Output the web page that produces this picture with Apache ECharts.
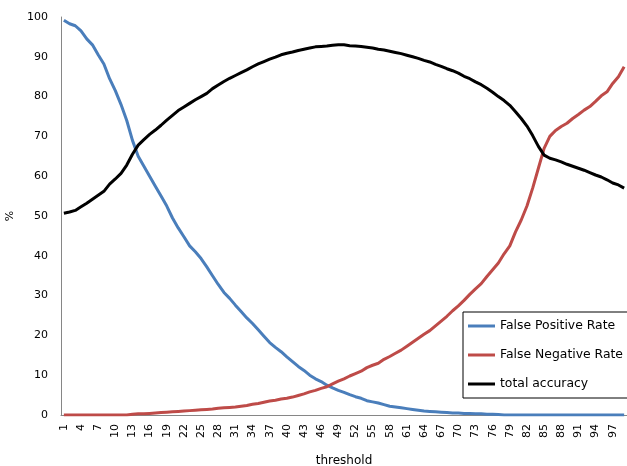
<!DOCTYPE html>
<html><head><meta charset="utf-8">
<script src="https://cdn.jsdelivr.net/npm/echarts@6/dist/echarts.min.js"></script>
<style>html,body{margin:0;padding:0;background:#fff}#c{width:627px;height:466px}</style>
</head><body><div id="c"></div>
<script>
const thresholds = [];
for (let i = 1; i <= 99; i++) thresholds.push(String(i));

const falsePositiveRate = [99.2,98.3,97.8,96.5,94.5,93,90.5,88.2,84.5,81.5,
78,74,69,65,62.5,60,57.5,55,52.5,49.5,
47,44.8,42.5,41,39.3,37.2,35,32.8,30.8,29.3,
27.6,26,24.4,23,21.4,19.8,18.2,17,15.9,14.6,
13.4,12.2,11.2,10,9.1,8.4,7.5,6.8,6.2,5.7,
5.1,4.6,4.2,3.6,3.3,3.0,2.6,2.2,2.0,1.8,
1.6,1.4,1.2,1.0,0.9,0.8,0.7,0.6,0.5,0.5,
0.4,0.4,0.3,0.3,0.2,0.2,0.1,0,0,0,
0,0,0,0,0,0,0,0,0,0,
0,0,0,0,0,0,0,0,0];

const falseNegativeRate = [0,0,0,0,0,0,0,0,0,0,
0,0,0.2,0.3,0.3,0.4,0.5,0.6,0.7,0.8,
0.9,1.0,1.1,1.2,1.3,1.4,1.5,1.7,1.8,1.9,
2.0,2.2,2.4,2.7,2.9,3.2,3.5,3.7,4.0,4.2,
4.5,4.9,5.3,5.8,6.2,6.7,7.1,7.8,8.5,9.1,
9.8,10.4,11.0,11.9,12.5,13.0,14.0,14.7,15.5,16.3,
17.3,18.3,19.3,20.3,21.2,22.4,23.6,24.8,26.2,27.4,
28.8,30.3,31.7,33.0,34.8,36.5,38.2,40.5,42.5,46,
49,52.5,57,62,67,70,71.5,72.5,73.3,74.5,
75.5,76.6,77.5,78.8,80.2,81.2,83.3,85,87.5];

const totalAccuracy = [50.7,51.0,51.4,52.3,53.2,54.2,55.2,56.2,58,59.3,
60.7,62.8,65.5,67.8,69.2,70.5,71.6,72.8,74.1,75.3,
76.5,77.4,78.3,79.2,80,80.8,82,82.9,83.8,84.6,
85.3,86,86.7,87.5,88.2,88.8,89.4,89.9,90.5,90.9,
91.2,91.6,91.9,92.2,92.5,92.6,92.7,92.9,93.0,93.0,
92.8,92.7,92.6,92.4,92.2,91.9,91.7,91.4,91.1,90.8,
90.4,90.0,89.6,89.1,88.7,88.1,87.6,87.0,86.5,85.9,
85.1,84.5,83.7,83.0,82.1,81.1,80.0,79.0,77.8,76.2,
74.5,72.6,70.2,67.5,65.3,64.5,64.1,63.6,63.0,62.5,
62.0,61.5,60.9,60.3,59.8,59.1,58.3,57.8,57.0];

const seriesNames = ['False Positive Rate','False Negative Rate','total accuracy'];
const seriesColors = ['#4A7EBB','#BE4B48','#000000'];
const seriesData = [falsePositiveRate, falseNegativeRate, totalAccuracy];

const font = 'DejaVu Sans';
const chart = echarts.init(document.getElementById('c'), null, {renderer:'canvas'});
chart.setOption({
  animation:false,
  backgroundColor:'#ffffff',
  textStyle:{fontFamily:font},
  grid:{left:61,right:0,top:17,bottom:51,containLabel:false,outerBoundsMode:'none'},
  xAxis:{
    type:'category', data:thresholds, boundaryGap:true,
    name:'threshold', nameLocation:'middle', nameGap:40,
    nameTextStyle:{fontFamily:font,fontSize:12,color:'#000'},
    axisLine:{lineStyle:{color:'#868686',width:1}},
    axisTick:{show:false},
    axisLabel:{interval:2,rotate:90,margin:9,fontFamily:font,fontSize:11,color:'#000'},
    splitLine:{show:false}
  },
  yAxis:{
    type:'value', min:0, max:100, interval:10,
    name:'%', nameLocation:'middle', nameGap:43, nameRotate:90,
    nameTextStyle:{fontFamily:font,fontSize:11,color:'#000'},
    axisLine:{show:true,lineStyle:{color:'#868686',width:1}},
    axisTick:{show:false},
    axisLabel:{margin:13,fontFamily:font,fontSize:11,color:'#000'},
    splitLine:{show:false}
  },
  legend:{
    orient:'vertical', left:463, top:312,
    data:seriesNames,
    backgroundColor:'#fff', borderColor:'#000', borderWidth:1,
    padding:[7,10,7,5], itemGap:15, itemWidth:27, itemHeight:3, itemTextGap:2,
    icon:'rect',
    textStyle:{fontFamily:font,fontSize:12.4,color:'#000',lineHeight:14}
  },
  series: seriesNames.map((n,i)=>({
    name:n, type:'line', data:seriesData[i], showSymbol:false, symbol:'none',
    smooth:false, color:seriesColors[i],
    lineStyle:{color:seriesColors[i],width:3},
    itemStyle:{color:seriesColors[i]}
  }))
});
</script></body></html>
